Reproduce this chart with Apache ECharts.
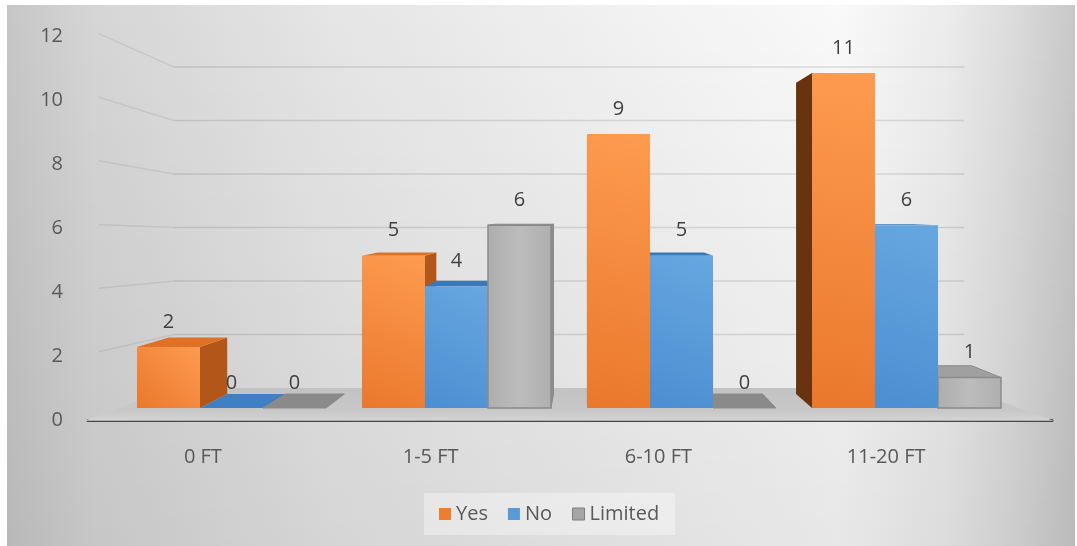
<!DOCTYPE html>
<html>
<head>
<meta charset="utf-8">
<script src="https://cdn.jsdelivr.net/npm/echarts@6/dist/echarts.min.js"></script>
<style>
  html, body { margin: 0; padding: 0; background: #ffffff; }
  #chart { width: 1077px; height: 546px; }
</style>
</head>
<body>
<div id="chart"></div>
<script>
// Survey answers per distance band
const categories = ['0 FT', '1-5 FT', '6-10 FT', '11-20 FT'];
const yesValues = [2, 5, 9, 11];
const noValues = [0, 4, 5, 6];
const limitedValues = [0, 6, 0, 1];
const valueTicks = [0, 2, 4, 6, 8, 10, 12];

const FONT = '"Open Sans", "Noto Sans", "DejaVu Sans", sans-serif';
const LG = echarts.graphic.LinearGradient;

// Simple perspective: points are pulled toward a vanishing point as they go deeper.
const VB = [586, 210];          // vanishing point for the bars
const BAR_DEPTH = 0.0705;       // back face of every bar
const VW = [570, 243];          // vanishing point for the walls and floor
const WALL_BACK = 0.1218;       // back wall
const WALL_FRONT = -0.0771;     // front edge of the floor (axis plane)

function toward(p, v, s) {
  return [p[0] + s * (v[0] - p[0]), p[1] + s * (v[1] - p[1])];
}

const styles = [
  {
    legend: { color: '#ED7D31' },
    front: new LG(0, 1, 1, 0, [{ offset: 0, color: '#ea782c' }, { offset: 1, color: '#fd9b50' }]),
    right: '#b3561a', left: '#6a330f', top: '#df7126', flat: '#c8621f', stroke: null
  },
  {
    legend: { color: '#5B9BD5' },
    front: new LG(0, 1, 1, 0, [{ offset: 0, color: '#4b8ed1' }, { offset: 1, color: '#67a7e0' }]),
    right: '#3a6ea6', left: '#2b5580', top: '#3b78b8', flat: '#3f7fc3', stroke: null
  },
  {
    legend: { color: '#A5A5A5', borderColor: '#7f7f7f', borderWidth: 1 },
    front: new LG(0, 0, 1, 0, [{ offset: 0, color: '#adadad' }, { offset: 0.5, color: '#bcbcbc' }, { offset: 1, color: '#afafaf' }]),
    right: '#8d8d8d', left: '#7a7a7a', top: '#a0a0a0', flat: '#8a8a8a', stroke: '#8a8a8a'
  }
];

function barSeries(name, idx, values) {
  const st = styles[idx];
  return {
    name: name,
    type: 'custom',
    xAxisIndex: 1,
    yAxisIndex: 1,
    itemStyle: st.legend,
    data: values.map((v, i) => [i, v]),
    renderItem: function (params, api) {
      const c = api.value(0);
      const v = api.value(1);
      const band = api.size([1, 0])[0];
      const bw = band * 0.28;
      const base = api.coord([c, 0]);
      const x0 = base[0] - 1.5 * bw + idx * bw;
      const x1 = x0 + bw;
      const y0 = base[1];
      const yt = api.coord([c, v])[1];
      const mid = (x0 + x1) / 2;
      const z = 1000 - Math.abs(mid - VB[0]);
      const b = p => toward(p, VB, BAR_DEPTH);
      const fl = [x0, yt], fr = [x1, yt], bl = [x0, y0], br = [x1, y0];
      const kids = [];
      const edge = st.stroke ? { stroke: st.stroke, lineWidth: 1 } : {};
      if (v > 0 && x1 < VB[0]) {
        kids.push({ type: 'polygon', z2: z, shape: { points: [fr, b(fr), b(br), br] },
          style: Object.assign({ fill: st.right }, edge) });
      }
      if (v > 0 && x0 > VB[0]) {
        kids.push({ type: 'polygon', z2: z, shape: { points: [fl, b(fl), b(bl), bl] },
          style: Object.assign({ fill: st.left }, edge) });
      }
      if (yt > VB[1]) {
        kids.push({ type: 'polygon', z2: z + 0.1, shape: { points: [fl, fr, b(fr), b(fl)] },
          style: Object.assign({ fill: v > 0 ? st.top : st.flat }, edge) });
      }
      if (v > 0) {
        kids.push({ type: 'rect', z2: z + 0.2, shape: { x: x0, y: yt, width: bw, height: y0 - yt },
          style: Object.assign({ fill: st.front }, st.stroke ? { stroke: st.stroke, lineWidth: 1.5 } : {}) });
      }
      kids.push({ type: 'text', z2: 5000, x: mid, y: yt - 25,
        style: { text: String(v), fill: '#404040', font: '20px ' + FONT, align: 'center', verticalAlign: 'middle' } });
      return { type: 'group', children: kids };
    }
  };
}

// Back wall and left wall gridlines, plus the floor
const wallSeries = {
  type: 'custom',
  xAxisIndex: 1,
  yAxisIndex: 1,
  silent: true,
  z: 1,
  data: valueTicks.map(t => [t]),
  renderItem: function (params, api) {
    const t = api.value(0);
    const band = api.size([1, 0])[0];
    const xl = api.coord([0, t])[0] - band / 2;
    const xr = api.coord([categories.length - 1, t])[0] + band / 2;
    const y = api.coord([0, t])[1];
    const bl = toward([xl, y], VW, WALL_BACK);
    const brr = toward([xr, y], VW, WALL_BACK);
    if (t === 0) {
      const fl = toward([xl, y], VW, WALL_FRONT);
      const fr = toward([xr, y], VW, WALL_FRONT);
      return {
        type: 'polygon', z2: 0,
        shape: { points: [fl, fr, brr, bl] },
        style: { fill: new LG(0, 0, 0, 1, [
          { offset: 0, color: '#c2c2c2' }, { offset: 0.7, color: '#c8c8c8' }, { offset: 1, color: '#d3d3d3' }]) }
      };
    }
    const fl = toward([xl, y], VW, -0.045);
    return {
      type: 'group',
      children: [
        { type: 'line', z2: 0, shape: { x1: bl[0], y1: bl[1], x2: brr[0], y2: brr[1] },
          style: { stroke: 'rgba(0,0,0,0.11)', lineWidth: 1.5 } },
        { type: 'line', z2: 0, shape: { x1: fl[0], y1: fl[1], x2: bl[0], y2: bl[1] },
          style: { stroke: 'rgba(0,0,0,0.07)', lineWidth: 1.5 } }
      ]
    };
  }
};

const chart = echarts.init(document.getElementById('chart'), null, { renderer: 'canvas' });

chart.setOption({
  animation: false,
  graphic: [
    {
      type: 'rect', z: -10, silent: true,
      shape: { x: 7, y: 5, width: 1068, height: 541 },
      style: { fill: new LG(0, 0, 1, 0, [
        { offset: 0, color: '#c6c6c6' }, { offset: 0.08, color: '#d5d5d5' },
        { offset: 0.3, color: '#e5e5e5' }, { offset: 0.55, color: '#f0f0f0' },
        { offset: 0.78, color: '#f9f9f9' }, { offset: 0.88, color: '#ececec' },
        { offset: 0.94, color: '#dcdcdc' }, { offset: 1, color: '#c8c8c8' }]) }
    },
    {
      type: 'rect', z: -9, silent: true,
      shape: { x: 7, y: 5, width: 1068, height: 541 },
      style: { fill: new LG(0, 0, 0, 1, [
        { offset: 0, color: 'rgba(0,0,0,0)' }, { offset: 1, color: 'rgba(0,0,0,0.07)' }]) }
    }
  ],
  legend: {
    data: [
      { name: 'Yes', itemStyle: styles[0].legend },
      { name: 'No', itemStyle: styles[1].legend },
      { name: 'Limited', itemStyle: styles[2].legend }
    ],
    icon: 'rect',
    left: 424,
    top: 493,
    itemWidth: 12,
    itemHeight: 12,
    itemGap: 20,
    padding: [11, 16, 11, 15],
    backgroundColor: 'rgba(255,255,255,0.35)',
    textStyle: { fontFamily: FONT, fontSize: 20, color: '#595959' }
  },
  grid: [
    { left: 88, right: 25, top: 36, bottom: 126 },          // axis plane
    { left: 119, right: 58, top: 42.6, bottom: 138 },       // bar front plane
    { left: 89, right: 77, top: 36, bottom: 126 }           // category label row
  ],
  xAxis: [
    { type: 'category', gridIndex: 0, data: categories,
      axisLine: { show: true, lineStyle: { color: '#454545', width: 3 } },
      axisTick: { show: false }, axisLabel: { show: false }, splitLine: { show: false } },
    { type: 'category', gridIndex: 1, data: categories, show: false },
    { type: 'category', gridIndex: 2, data: categories,
      axisLine: { show: false }, axisTick: { show: false },
      axisLabel: { margin: 27, fontFamily: FONT, fontSize: 20, color: '#595959' } }
  ],
  yAxis: [
    { type: 'value', gridIndex: 0, min: 0, max: 12, interval: 2,
      axisLine: { show: false }, axisTick: { show: false }, splitLine: { show: false },
      axisLabel: { margin: 25, fontFamily: FONT, fontSize: 20, color: '#595959' } },
    { type: 'value', gridIndex: 1, min: 0, max: 12, interval: 2, show: false, splitLine: { show: false } },
    { type: 'value', gridIndex: 2, min: 0, max: 12, interval: 2, show: false, splitLine: { show: false } }
  ],
  series: [
    wallSeries,
    barSeries('Yes', 0, yesValues),
    barSeries('No', 1, noValues),
    barSeries('Limited', 2, limitedValues)
  ]
});
</script>
</body>
</html>
